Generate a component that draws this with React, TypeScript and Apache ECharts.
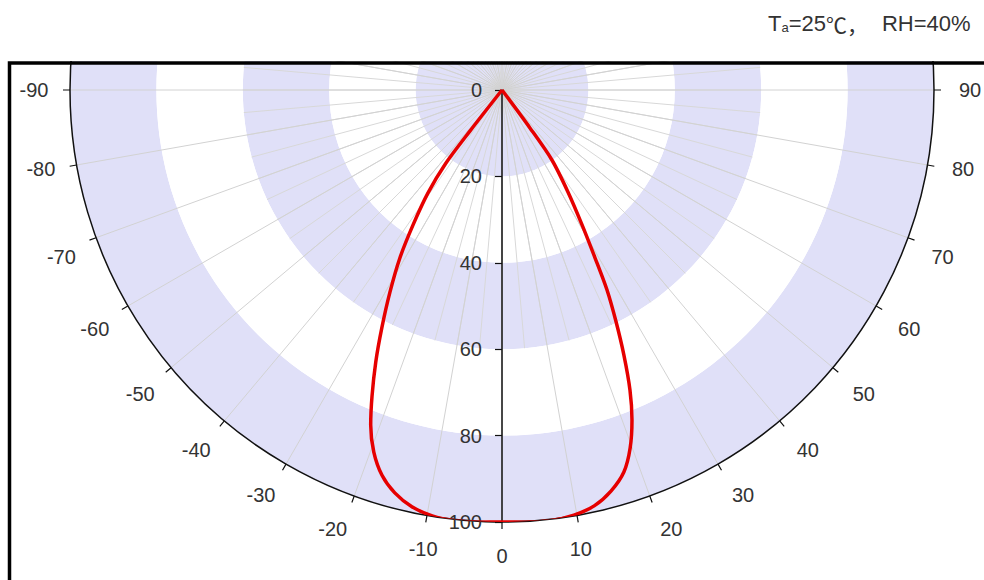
import React, { useEffect, useRef } from 'react';
import * as echarts from 'echarts';

// Polar directivity curve (angle in degrees, 0 = straight down; radius in %)
const curveAngles = [-38, -38, -37.5, -35.7, -33.4, -31.3, -29, -26.8, -24.9, -23, -21.4, -19.5, -17.3, -14.9, -12.2, -9.3, -6.2, -3.2, 0, 3.2, 6.5, 9.6, 12.5, 15.2, 17.7, 19.7, 21.5, 23.1, 24.7, 26.2, 27.7, 29, 30.7, 32.9, 35.5, 36.4, 36.4];
const curveValues = [0, 12, 21.3, 29.4, 37.4, 45.5, 53.5, 61.7, 69.4, 77, 83.3, 88.9, 93.4, 96.5, 98.7, 99.9, 100.3, 100.2, 100, 100.2, 100.3, 99.8, 98.6, 96.2, 92.8, 88, 82.1, 75.5, 67.5, 59.8, 52.3, 44.4, 36.3, 28.1, 19.9, 10.9, 0];

const radiusMin = 0;
const radiusMax = 100;
const radiusStep = 20;
const angleStep = 10;
const innerAngleStep = 5;
const innerRadiusShare = 0.6;

export default function App() {
  const ref = useRef<HTMLDivElement>(null);
  useEffect(() => {
    const chart = echarts.init(ref.current!, null, { renderer: 'svg' });
    const font = '"Liberation Sans", Arial, sans-serif';
    const cjk = '"Noto Sans CJK SC", "Liberation Sans", sans-serif';
    const toAxisAngle = (a: number) => (a < 0 ? a + 360 : a);
    const angleLabel = (v: number) => {
      let t: number | null = null;
      if (v <= 90) t = v;
      else if (v >= 270 && v < 360) t = v - 360;
      if (t === null) return '';
      return `{a|${t}}`;
    };
    const center = [502, 90];
    const R = 432;
    const option: any = {
      animation: false,
      backgroundColor: '#ffffff',
      polar: [
        { center, radius: R },
        { center, radius: R * innerRadiusShare },
        { center, radius: R },
      ],
      angleAxis: [
        {
          polarIndex: 0,
          type: 'value',
          min: 0,
          max: 360,
          interval: angleStep,
          startAngle: 270,
          clockwise: false,
          z: 2,
          axisLine: { show: true, lineStyle: { color: '#111', width: 1.5 } },
          axisTick: { show: true, length: 7, lineStyle: { color: '#111', width: 1.2 } },
          axisLabel: {
            show: true,
            margin: 22,
            color: '#333',
            fontSize: 20,
            fontFamily: font,
            formatter: angleLabel,
            rich: {
              a: { width: 28, height: 24, lineHeight: 24, align: 'center', verticalAlign: 'middle', fontSize: 20, color: '#333', fontFamily: font },
            },
          },
          splitLine: { show: true, lineStyle: { color: '#d2d2d2', width: 1 } },
        },
        {
          polarIndex: 1,
          type: 'value',
          min: 0,
          max: 360,
          interval: innerAngleStep,
          startAngle: 270,
          clockwise: false,
          z: 1,
          axisLine: { show: false },
          axisTick: { show: false },
          axisLabel: { show: false },
          splitLine: { show: true, lineStyle: { color: '#d8d8d8', width: 1 } },
        },
        { polarIndex: 2, type: 'value', min: 0, max: 360, startAngle: 270, clockwise: false, show: false },
      ],
      radiusAxis: [
        {
          polarIndex: 0,
          type: 'value',
          min: radiusMin,
          max: radiusMax,
          interval: radiusStep,
          z: 0,
          axisLine: { show: false },
          axisTick: { show: false },
          axisLabel: { show: false },
          splitLine: { show: false },
          splitArea: { show: true, areaStyle: { color: ['#e0e0f8', '#ffffff'] } },
        },
        { polarIndex: 1, type: 'value', min: 0, max: 60, show: false },
        {
          polarIndex: 2,
          type: 'value',
          min: radiusMin,
          max: radiusMax,
          interval: radiusStep,
          z: 3,
          axisLine: { show: true, lineStyle: { color: '#111', width: 1.5 } },
          axisTick: { show: true, length: -7, lineStyle: { color: '#111', width: 1.2 } },
          axisLabel: {
            show: true,
            margin: -60,
            formatter: (v: number) => `{r|${v}}`,
            rich: {
              r: { width: 40, align: 'right', fontSize: 20, color: '#333', fontFamily: font },
            },
          },
          splitLine: { show: false },
          splitArea: { show: false },
        },
      ],
      series: [
        {
          type: 'line',
          coordinateSystem: 'polar',
          polarIndex: 0,
          z: 5,
          smooth: 0.3,
          showSymbol: false,
          symbol: 'none',
          lineStyle: { color: '#e60000', width: 3.5 },
          data: curveAngles.map((a, i) => [curveValues[i], toAxisAngle(a)]),
        },
      ],
      graphic: [
        { type: 'rect', z: 100, shape: { x: 0, y: 0, width: 984, height: 61 }, style: { fill: '#ffffff' } },
        { type: 'rect', z: 101, shape: { x: 9.5, y: 63, width: 1100, height: 700 }, style: { fill: 'none', stroke: '#000', lineWidth: 3.5 } },
        {
          type: 'text',
          z: 102,
          x: 768,
          y: 8,
          style: {
            text: '{t|T}{s|a}{n|=25}{c|℃，}{m|RH=40%}',
            rich: {
              t: { fontSize: 22, fontFamily: font, fill: '#333', lineHeight: 26, verticalAlign: 'bottom' },
              s: { fontSize: 13, fontFamily: font, fill: '#333', lineHeight: 26, verticalAlign: 'bottom' },
              n: { fontSize: 22, fontFamily: font, fill: '#333', lineHeight: 26, verticalAlign: 'bottom' },
              c: { fontSize: 21, fontFamily: cjk, fill: '#333', lineHeight: 26, verticalAlign: 'bottom' },
              m: { fontSize: 22, fontFamily: font, fill: '#333', lineHeight: 26, verticalAlign: 'bottom', padding: [0, 0, 0, 14] },
            },
          },
        },
      ],
    };
    chart.setOption(option);
    return () => chart.dispose();
  }, []);
  return <div ref={ref} style={{ position: 'fixed', left: 0, top: 0, width: 984, height: 580 }} />;
}
